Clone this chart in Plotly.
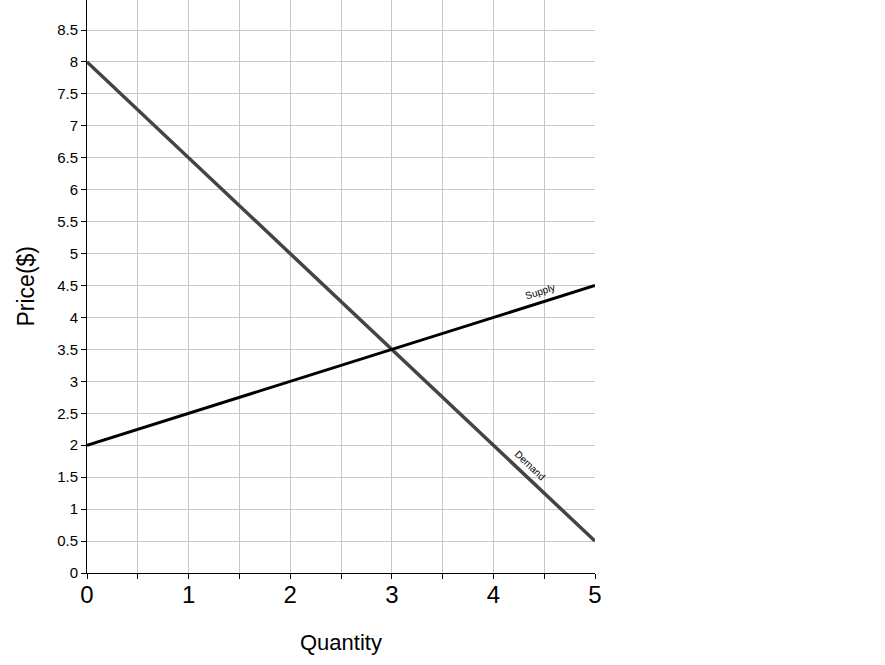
import plotly.graph_objects as go

quantity = [0, 5]
supply_price = [2, 4.5]
demand_price = [8, 0.5]
y_ticks = [i * 0.5 for i in range(0, 19)]
y_tick_labels = ["0", "0.5", "1", "1.5", "2", "2.5", "3", "3.5", "4", "4.5", "5",
                 "5.5", "6", "6.5", "7", "7.5", "8", "8.5", "9"]
x_ticks = [0, 1, 2, 3, 4, 5]

FONT = "Liberation Sans, Arial, Helvetica, sans-serif"

fig = go.Figure()
fig.add_trace(go.Scatter(x=quantity, y=demand_price, mode="lines",
                         line=dict(color="#444444", width=3.5), name="Demand",
                         cliponaxis=False))
fig.add_trace(go.Scatter(x=quantity, y=supply_price, mode="lines",
                         line=dict(color="#000000", width=3), name="Supply",
                         cliponaxis=False))

fig.add_annotation(x=4.46, y=4.40, text="Supply", showarrow=False, textangle=-17.5,
                   font=dict(family=FONT, size=10, color="#000"))
fig.add_annotation(x=4.36, y=1.68, text="Demand", showarrow=False, textangle=43.3,
                   font=dict(family=FONT, size=10, color="#000"))
fig.add_annotation(x=0.5, y=0, xref="paper", yref="paper", text="Quantity",
                   showarrow=False, yanchor="middle", yshift=-69,
                   font=dict(family=FONT, size=22, color="#000"))
fig.add_annotation(x=0, y=0.5, xref="paper", yref="paper", text="Price($)",
                   showarrow=False, xanchor="center", xshift=-62, textangle=-90,
                   font=dict(family=FONT, size=23, color="#000"))

fig.update_layout(
    width=885, height=665,
    margin=dict(l=87, r=290, t=0, b=92, autoexpand=False),
    plot_bgcolor="white", paper_bgcolor="white",
    showlegend=False,
    font=dict(family=FONT, color="#000"),
)
fig.update_xaxes(
    range=[0, 5], tickvals=x_ticks, ticktext=[str(v) for v in x_ticks],
    showgrid=True, gridcolor="#c8c8c8", gridwidth=1,
    ticks="outside", ticklen=5, tickcolor="#000", tickwidth=1,
    minor=dict(dtick=0.5, tick0=0, ticks="outside", ticklen=5, tickcolor="#000",
               showgrid=True, gridcolor="#c8c8c8", gridwidth=1),
    showline=True, linecolor="#000", linewidth=1, zeroline=False,
    tickfont=dict(size=24, family=FONT), ticklabelstandoff=-5,
    automargin=False,
)
fig.update_yaxes(
    range=[0, 8.97], tickvals=y_ticks, ticktext=y_tick_labels,
    showgrid=True, gridcolor="#c8c8c8", gridwidth=1,
    ticks="outside", ticklen=5, tickcolor="#000", tickwidth=1,
    showline=True, linecolor="#000", linewidth=1, zeroline=False,
    tickfont=dict(size=15, family=FONT),
    automargin=False,
)

fig.write_html("out.html", config={"displayModeBar": False},
               post_script="document.body.style.margin='0';document.body.style.overflow='hidden';")
